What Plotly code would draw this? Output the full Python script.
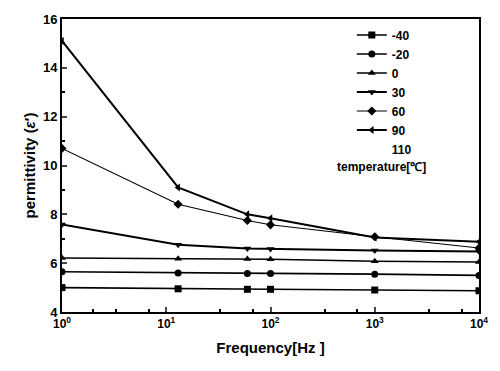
import plotly.graph_objects as go

freq = [1, 13, 60, 100, 1000, 10000]
temps = ["-40", "-20", "0", "30", "60", "90"]
vals_m40 = [5.0, 4.95, 4.93, 4.93, 4.90, 4.87]
vals_m20 = [5.65, 5.60, 5.58, 5.58, 5.55, 5.50]
vals_0 = [6.21, 6.18, 6.17, 6.16, 6.08, 6.05]
vals_30 = [7.58, 6.75, 6.60, 6.58, 6.52, 6.48]
vals_60 = [10.70, 8.41, 7.75, 7.57, 7.08, 6.62]
vals_90 = [15.10, 9.10, 8.00, 7.84, 7.05, 6.88]
series = [vals_m40, vals_m20, vals_0, vals_30, vals_60, vals_90]
symbols = ["square", "circle", "triangle-up", "triangle-down", "diamond", "triangle-left"]
widths = [1.6, 1.6, 1.4, 2.0, 1.1, 2.0]

xtickvals = [1, 10, 100, 1000, 10000]
xticktext = ["10<sup>0</sup>", "10<sup>1</sup>", "10<sup>2</sup>", "10<sup>3</sup>", "10<sup>4</sup>"]
xminor = [2, 3.3, 6.8, 33, 68, 330, 680, 3300, 6800]
ytickvals = [4, 6, 8, 10, 12, 14, 16]

fig = go.Figure()
for name, v, s, w in zip(temps, series, symbols, widths):
    fig.add_trace(go.Scatter(x=freq, y=v, name=name, mode="lines+markers",
                             line=dict(color="black", width=w),
                             marker=dict(symbol=s, size=7, color="black")))
fig.add_trace(go.Scatter(x=[None], y=[None], name="110", mode="markers",
                         marker=dict(opacity=0, color="white")))

font = "Liberation Sans, Arial, sans-serif"
fig.update_layout(
    width=500, height=371,
    margin=dict(l=62, r=20, t=12, b=59),
    paper_bgcolor="white", plot_bgcolor="white",
    font=dict(family=font, color="black", size=12),
    legend=dict(x=0.695, y=0.995, xanchor="left", yanchor="top",
                font=dict(size=12, family=font, weight="bold"),
                bgcolor="rgba(0,0,0,0)", tracegroupgap=0, itemwidth=30),
    xaxis=dict(type="log", range=[0, 4], tickvals=xtickvals, ticktext=xticktext,
               ticks="inside", ticklen=5, tickwidth=1.5, showgrid=False, zeroline=False,
               showline=True, linecolor="black", linewidth=2, mirror=True,
               minor=dict(ticks="inside", ticklen=3, tickcolor="black", showgrid=False,
                          tickvals=xminor),
               tickfont=dict(size=12, weight="bold"),
               title=dict(text="Frequency[Hz ]", font=dict(size=15, weight="bold"), standoff=12)),
    yaxis=dict(range=[4, 16], tickvals=ytickvals,
               ticks="inside", ticklen=5, tickwidth=1.5, showgrid=False, zeroline=False,
               showline=True, linecolor="black", linewidth=2, mirror=True,
               minor=dict(ticks="inside", ticklen=3, dtick=1, tickcolor="black", showgrid=False),
               tickfont=dict(size=13, weight="bold"),
               title=dict(text="permittivity (<i>ε</i>′)", font=dict(size=15, weight="bold"), standoff=4)),
    showlegend=True,
)
fig.add_annotation(text="temperature[℃]", xref="paper", yref="paper", x=0.655, y=0.495,
                   xanchor="left", yanchor="middle", showarrow=False,
                   font=dict(size=12, family=font, weight="bold"))
fig.write_html("out.html")
